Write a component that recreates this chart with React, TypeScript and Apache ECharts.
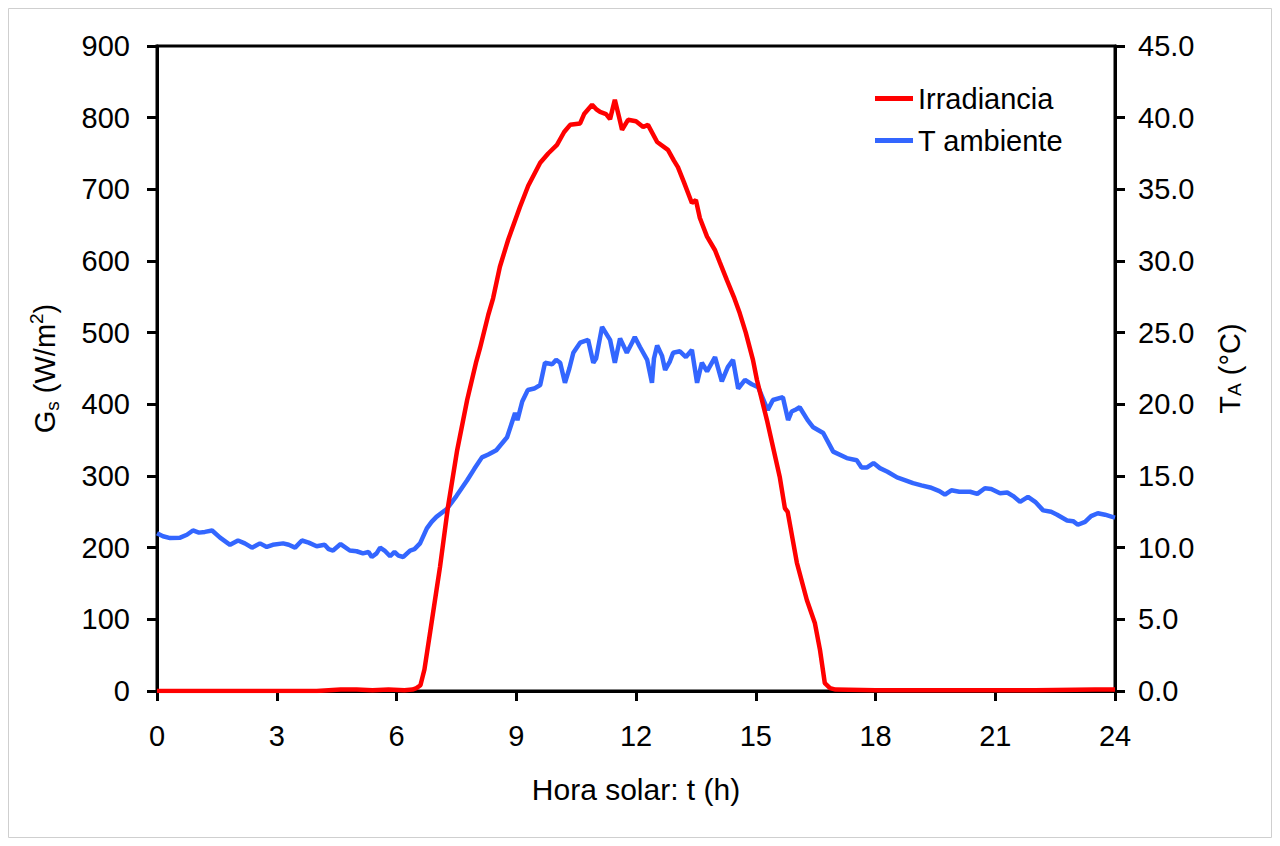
import React, { useEffect, useRef } from "react";
import * as echarts from "echarts";

const xTicks = [0, 3, 6, 9, 12, 15, 18, 21, 24];

const irrTimes = [0, 1, 2, 3, 4, 4.6, 5, 5.4, 5.8, 6.2, 6.4, 6.5, 6.6, 6.7, 6.84, 7.0, 7.09, 7.29, 7.52, 7.77, 8.0, 8.09, 8.3, 8.42, 8.59, 8.8, 9.09, 9.3, 9.6, 9.8, 10.02, 10.2, 10.35, 10.6, 10.7, 10.9, 11.0, 11.1, 11.25, 11.35, 11.47, 11.58, 11.65, 11.8, 12.0, 12.18, 12.3, 12.53, 12.8, 12.95, 13.05, 13.2, 13.4, 13.5, 13.6, 13.78, 13.98, 14.1, 14.28, 14.45, 14.6, 14.75, 14.93, 15.03, 15.28, 15.6, 15.73, 15.8, 16.03, 16.28, 16.48, 16.61, 16.73, 16.86, 17, 18, 20, 22, 23.5, 24];
const irrValues = [0, 0, 0, 0, 0, 2, 2, 1, 2, 1, 2, 4, 8, 30, 81, 140, 173, 257, 336, 406, 460, 478, 525, 548, 592, 630, 675, 705, 737, 750, 762, 780, 790, 792, 805, 818, 812, 808, 805, 798, 825, 800, 783, 797, 795, 787, 790, 766, 755, 740, 731, 710, 681, 685, 660, 634, 615, 598, 573, 550, 527, 500, 462, 434, 378, 299, 255, 250, 179, 127, 95, 57, 11, 4, 2, 1, 1, 1, 2, 2];

const tempTimes = [0, 0.15, 0.33, 0.58, 0.75, 0.9, 1.05, 1.2, 1.38, 1.58, 1.83, 2.03, 2.2, 2.38, 2.58, 2.75, 2.9, 3.16, 3.3, 3.46, 3.63, 3.8, 4.0, 4.2, 4.3, 4.41, 4.6, 4.83, 5.0, 5.16, 5.3, 5.38, 5.5, 5.59, 5.7, 5.84, 5.95, 6.05, 6.17, 6.34, 6.45, 6.59, 6.76, 6.88, 7.0, 7.26, 7.5, 7.77, 7.95, 8.14, 8.3, 8.5, 8.77, 8.97, 9.03, 9.15, 9.29, 9.45, 9.6, 9.72, 9.9, 10.0, 10.1, 10.22, 10.33, 10.43, 10.6, 10.8, 10.93, 11.0, 11.15, 11.35, 11.47, 11.6, 11.77, 11.9, 11.97, 12.1, 12.28, 12.4, 12.45, 12.53, 12.65, 12.73, 12.85, 12.93, 13.1, 13.25, 13.4, 13.53, 13.65, 13.78, 13.98, 14.15, 14.3, 14.43, 14.56, 14.73, 14.9, 15.06, 15.3, 15.43, 15.68, 15.81, 15.9, 15.98, 16.1, 16.3, 16.44, 16.69, 16.94, 17.28, 17.53, 17.65, 17.79, 17.95, 18.11, 18.3, 18.54, 18.75, 18.94, 19.15, 19.37, 19.6, 19.74, 19.9, 20.1, 20.37, 20.55, 20.74, 20.9, 21.12, 21.3, 21.45, 21.62, 21.82, 22.0, 22.2, 22.4, 22.55, 22.8, 22.95, 23.07, 23.25, 23.4, 23.57, 23.75, 23.93, 24];
const tempValues = [11.0, 10.8, 10.67, 10.7, 10.9, 11.2, 11.05, 11.1, 11.2, 10.7, 10.2, 10.5, 10.3, 10.0, 10.3, 10.05, 10.2, 10.3, 10.2, 10.0, 10.5, 10.35, 10.1, 10.2, 9.9, 9.8, 10.25, 9.8, 9.75, 9.6, 9.7, 9.35, 9.6, 10.0, 9.8, 9.4, 9.7, 9.45, 9.35, 9.8, 9.9, 10.3, 11.35, 11.8, 12.15, 12.7, 13.6, 14.7, 15.5, 16.3, 16.5, 16.8, 17.7, 19.4, 18.9, 20.2, 21.0, 21.1, 21.35, 22.9, 22.8, 23.1, 22.9, 21.5, 22.5, 23.6, 24.3, 24.5, 22.9, 23.2, 25.4, 24.5, 22.9, 24.6, 23.6, 24.3, 24.7, 24.0, 23.1, 21.5, 23.2, 24.1, 23.4, 22.4, 23.0, 23.6, 23.7, 23.3, 23.8, 21.5, 22.9, 22.3, 23.3, 21.6, 22.6, 23.1, 21.1, 21.7, 21.4, 21.2, 19.6, 20.3, 20.5, 18.9, 19.5, 19.6, 19.8, 18.9, 18.4, 18.0, 16.7, 16.25, 16.1, 15.6, 15.6, 15.9, 15.55, 15.3, 14.9, 14.7, 14.5, 14.35, 14.2, 13.95, 13.7, 14.0, 13.9, 13.9, 13.75, 14.15, 14.1, 13.8, 13.85, 13.6, 13.2, 13.55, 13.2, 12.6, 12.5, 12.3, 11.9, 11.85, 11.6, 11.8, 12.2, 12.4, 12.3, 12.15, 12.1];

const FONT = "'Liberation Sans', Arial, sans-serif";

export default function App() {
  const ref = useRef<HTMLDivElement>(null);
  useEffect(() => {
    if (!ref.current) return;
    const chart = echarts.init(ref.current, undefined, { renderer: "svg" });
    const irr = irrTimes.map((t, i) => [t, irrValues[i]]);
    const temp = tempTimes.map((t, i) => [t, tempValues[i]]);
    const axisLine = { show: true, lineStyle: { color: "#000", width: 3 } };
    const axisTick = { show: true, length: 10, lineStyle: { color: "#000", width: 3 } };
    const labelBase = { color: "#000", fontSize: 29, fontFamily: FONT };
    chart.setOption({
      animation: false,
      backgroundColor: "#fff",
      textStyle: { fontFamily: FONT },
      graphic: [
        {
          type: "rect",
          shape: { x: 0.5, y: 0.5, width: 1263, height: 829 },
          style: { fill: "none", stroke: "#cfcfcf", lineWidth: 1 },
          silent: true,
        },
      ],
      grid: {
        left: 149,
        right: 157,
        top: 38,
        bottom: 147,
        show: true,
        borderColor: "#000",
        borderWidth: 3,
        backgroundColor: "transparent",
      },
      legend: {
        orient: "vertical",
        left: 862,
        top: 71,
        itemWidth: 38,
        itemHeight: 5,
        itemGap: 13,
        icon: "rect",
        textStyle: { color: "#000", fontSize: 29, fontFamily: FONT },
        data: ["Irradiancia", "T ambiente"],
      },
      xAxis: {
        type: "value",
        min: 0,
        max: 24,
        interval: 3,
        axisLine,
        axisTick,
        splitLine: { show: false },
        axisLabel: { ...labelBase, margin: 30 },
        name: "Hora solar: t (h)",
        nameLocation: "middle",
        nameGap: 83,
        nameTextStyle: { color: "#000", fontSize: 30, fontFamily: FONT },
      },
      yAxis: [
        {
          type: "value",
          position: "left",
          min: 0,
          max: 900,
          interval: 100,
          axisLine,
          axisTick,
          splitLine: { show: false },
          axisLabel: { ...labelBase, margin: 27 },
          name: "{a|G}{s|s}{a| (W/m}{p|2}{a|)}",
          nameLocation: "middle",
          nameGap: 95,
          nameTextStyle: {
            color: "#000",
            fontSize: 29,
            fontFamily: FONT,
            rich: {
              a: { fontSize: 29, fontFamily: FONT, color: "#000" },
              s: { fontSize: 19, fontFamily: FONT, color: "#000", verticalAlign: "bottom", padding: [10, 0, 0, 0] },
              p: { fontSize: 19, fontFamily: FONT, color: "#000", verticalAlign: "top", padding: [0, 0, 16, 0] },
            },
          },
        },
        {
          type: "value",
          position: "right",
          min: 0,
          max: 45,
          interval: 5,
          axisLine,
          axisTick,
          splitLine: { show: false },
          axisLabel: { ...labelBase, margin: 23, formatter: (v: number) => v.toFixed(1) },
          name: "{a|T}{s|A}{a| (°C)}",
          nameLocation: "middle",
          nameGap: 100,
          nameTextStyle: {
            color: "#000",
            fontSize: 29,
            fontFamily: FONT,
            rich: {
              a: { fontSize: 29, fontFamily: FONT, color: "#000" },
              s: { fontSize: 19, fontFamily: FONT, color: "#000", verticalAlign: "bottom", padding: [10, 0, 0, 0] },
            },
          },
        },
      ],
      series: [
        {
          name: "Irradiancia",
          type: "line",
          data: irr,
          yAxisIndex: 0,
          showSymbol: false,
          symbol: "none",
          lineStyle: { color: "#ff0000", width: 4.5 },
          itemStyle: { color: "#ff0000" },
          z: 3,
        },
        {
          name: "T ambiente",
          type: "line",
          data: temp,
          yAxisIndex: 1,
          showSymbol: false,
          symbol: "none",
          lineStyle: { color: "#3366ff", width: 4.5 },
          itemStyle: { color: "#3366ff" },
          z: 2,
        },
      ],
    });
    return () => chart.dispose();
  }, []);
  return <div ref={ref} style={{ width: 1264, height: 830 }} />;
}
